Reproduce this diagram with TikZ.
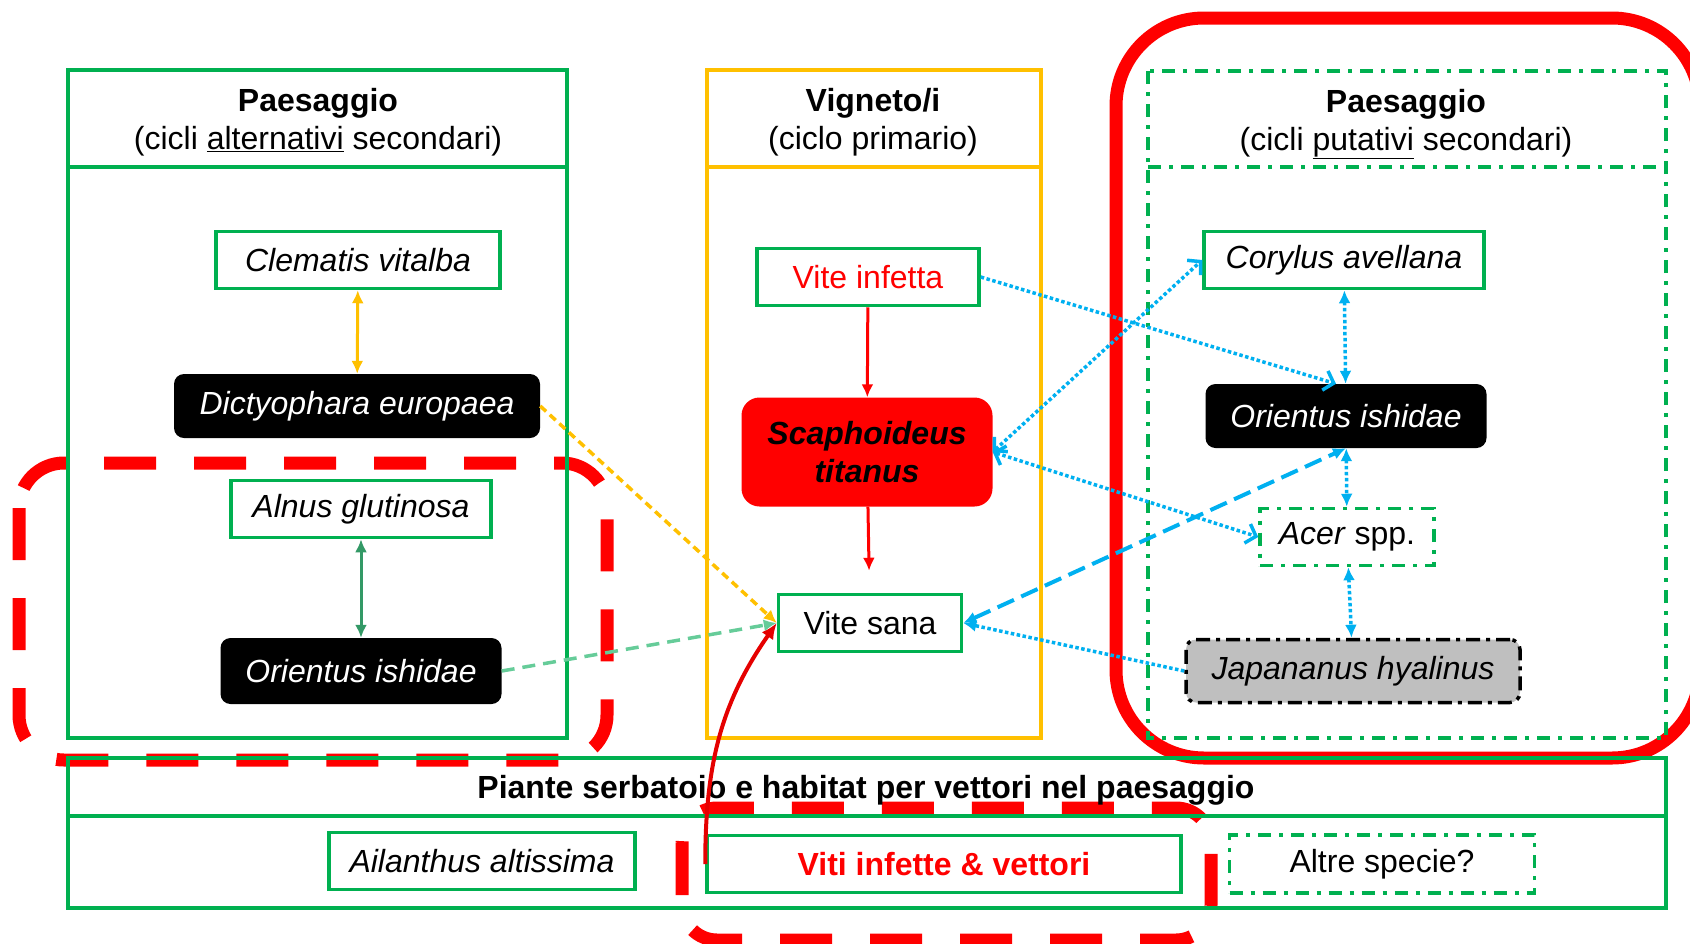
\documentclass[tikz,border=0pt]{standalone}
\usepackage{fontspec}
\setmainfont{Liberation Sans}
\usetikzlibrary{arrows.meta}
\definecolor{grn}{HTML}{00B050}
\definecolor{yel}{HTML}{FFC000}
\definecolor{blu}{HTML}{00B0F0}
\definecolor{dgrn}{HTML}{339966}
\definecolor{lgrn}{HTML}{66CC99}
\definecolor{gry}{HTML}{BFBFBF}
\definecolor{rd}{HTML}{FF0000}
\newcommand\sz{\fontsize{32}{38}\selectfont}
\tikzset{
  gbox/.style={draw=grn, fill=white, line width=3.5, minimum height=57},
  bbox/.style={fill=black, text=white, rounded corners=10, minimum height=64, font=\sz\itshape},
  dashdot/.style={dash pattern=on 13 off 8 on 4 off 8},
  bdot/.style={blu, line width=3.5, dash pattern=on 3.5 off 2.5},
  tri/.style={{Latex[length=13,width=12]}-{Latex[length=13,width=12]}},
  barb/.style={{Straight Barb[length=9,width=20]}-{Straight Barb[length=9,width=20]}}
}
\begin{document}
\begin{tikzpicture}[x=1pt, y=-1pt, font=\sz]
\useasboundingbox (0,0) rectangle (1690,943);

% red frames
\draw[rd, line width=13, rounded corners=88] (1116,18) rectangle (1700,758);
\draw[rd, line width=13, dash pattern=on 52 off 38, rounded corners=45] (19,463) rectangle (607,760);
\draw[rd, line width=13, dash pattern=on 52 off 38, rounded corners=35] (682,808) rectangle (1211,940);

% panels
\draw[grn, line width=3.5] (68,70) rectangle (567,738) (68,167) -- (567,167);
\draw[yel, line width=3.5] (707,70) rectangle (1041,738) (707,167) -- (1041,167);
\draw[grn, line width=3.5, dashdot] (1148,71) rectangle (1666,738) (1148,167) -- (1666,167);
\draw[grn, line width=3.5] (68,758) rectangle (1666,908) (68,816) -- (1666,816);

\node[align=center] (titleL) at (318,122) {\textbf{Paesaggio}\\(cicli \underline{alternativi} secondari)};
\node[align=center] (titleM) at (873,122) {\textbf{Vigneto/i}\\(ciclo primario)};
\node[align=center] (titleR) at (1406,124) {\textbf{Paesaggio}\\(cicli \underline{putativi} secondari)};
\node[font=\sz\bfseries] (titleB) at (866,790) {Piante serbatoio e habitat per vettori nel paesaggio};

% left column
\node[gbox, minimum width=284, font=\sz\itshape] (clem) at (358,260) {Clematis vitalba};
\node[bbox, minimum width=366] (dict) at (357,406) {Dictyophara europaea};
\node[gbox, minimum width=260, font=\sz\itshape] (alnus) at (361,509) {Alnus glutinosa};
\node[bbox, minimum width=281, minimum height=66] (orientL) at (361,671) {Orientus ishidae};

% middle column
\node[gbox, minimum width=222, text=rd] (vinf) at (868,277) {Vite infetta};
\node[fill=rd, rounded corners=18, minimum width=251, minimum height=109, align=center, font=\sz\bfseries\itshape] (scaph) at (867,452) {Scaphoideus\\titanus};
\node[gbox, minimum width=183] (vsana) at (870,623) {Vite sana};

% right column
\node[gbox, minimum width=280, font=\sz\itshape] (cory) at (1344,260) {Corylus avellana};
\node[bbox, minimum width=281] (orientR) at (1346,416) {Orientus ishidae};
\node[draw=grn, fill=white, line width=3.5, dashdot, minimum width=174, minimum height=57] (acer) at (1347,537) {\textit{Acer} spp.};
\node[draw=black, fill=gry, line width=3.5, dash pattern=on 14 off 6 on 4 off 6, rounded corners=10, minimum width=334, minimum height=63, font=\sz\itshape] (japa) at (1353,671) {Japananus hyalinus};

% bottom row
\node[gbox, minimum width=306, font=\sz\itshape] (ailan) at (482,861) {Ailanthus altissima};
\node[gbox, minimum width=474, text=rd, font=\sz\bfseries] (viti) at (944,864) {Viti infette \& vettori};
\node[draw=grn, fill=white, line width=3.5, dashdot, minimum width=305, minimum height=58] (altre) at (1382,864) {Altre specie?};

% connectors
\draw[yel, line width=3, tri] (clem) -- (dict);
\draw[dgrn, line width=3, tri] (alnus) -- (orientL);
\draw[lgrn, line width=3.5, dash pattern=on 13 off 8, -{Latex[length=13,width=12]}] (orientL.east) -- (vsana.west);
\draw[yel, line width=3.5, dash pattern=on 8 off 5, -{Latex[length=13,width=12]}] (dict.east) -- (vsana.west);
\draw[rd, line width=3, -{Latex[length=13,width=12]}] (vinf) -- (scaph);
\draw[rd, line width=3, shorten >=22, -{Latex[length=13,width=12]}] (scaph) -- (vsana);
\draw[red!90!black, line width=4, -{Latex[length=16,width=14]}] (viti.west) to[out=90, in=235] (vsana.west);

\draw[bdot, tri] (cory) -- (orientR);
\draw[bdot, tri] (orientR) -- (acer);
\draw[bdot, tri] (acer) -- (japa);
\draw[bdot, barb] (scaph.east) -- (cory.west);
\draw[bdot, barb] (scaph.east) -- (acer.west);
\draw[bdot, -{Straight Barb[length=9,width=20]}] (vinf.east) -- ([xshift=-10]orientR.north);
\draw[bdot, -{Latex[length=13,width=12]}] (japa.west) -- (vsana.east);
\draw[blu, line width=4, dash pattern=on 18 off 8, tri] (vsana.east) -- (orientR.south);
\end{tikzpicture}
\end{document}
